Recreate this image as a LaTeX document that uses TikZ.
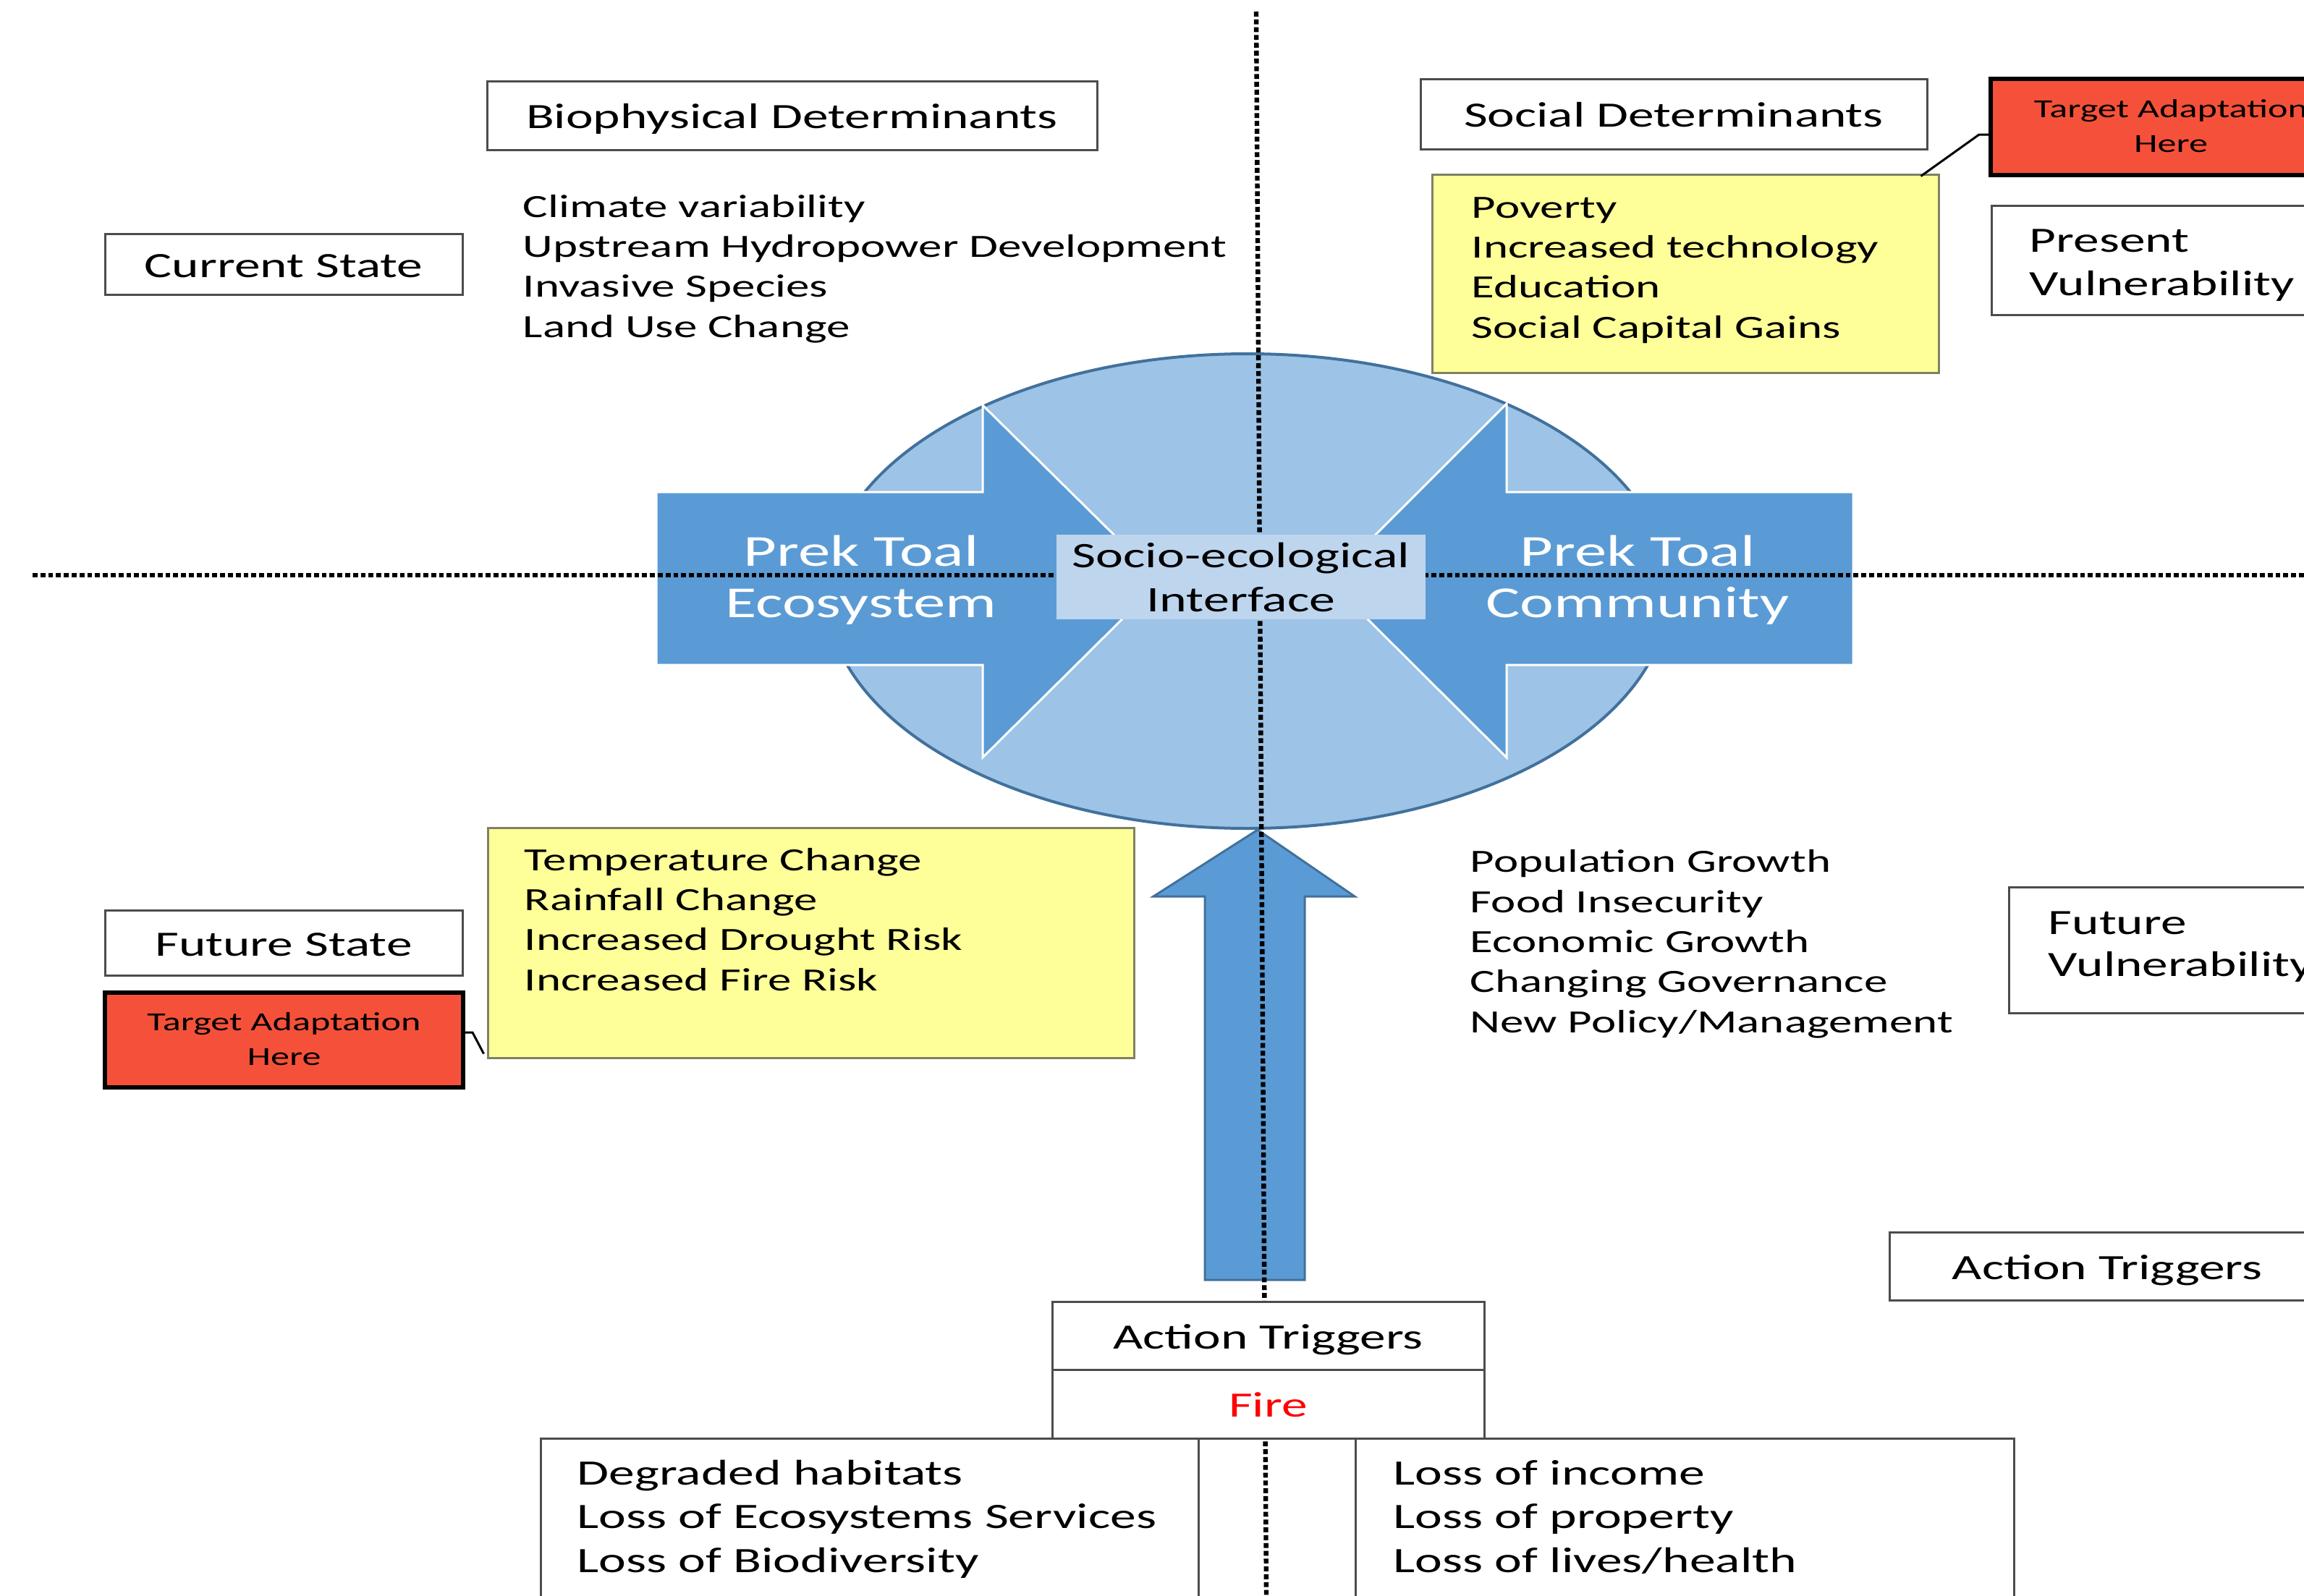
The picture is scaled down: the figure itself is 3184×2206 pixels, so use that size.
\documentclass[tikz,border=0pt]{standalone}
\usepackage{fontspec}
\setmainfont{Carlito}[FakeStretch=1.45]
\usetikzlibrary{calc}

\definecolor{arrowblue}{RGB}{91,155,213}
\definecolor{ovalfill}{RGB}{157,195,230}
\definecolor{ovaledge}{RGB}{65,113,156}
\definecolor{ifacefill}{RGB}{190,213,238}
\definecolor{noteyellow}{RGB}{255,255,153}
\definecolor{noteedge}{RGB}{128,128,100}
\definecolor{targetred}{RGB}{245,81,58}

\tikzset{
  labelbox/.style={draw=black!70, line width=0.75pt, fill=white, inner sep=0pt,
    font=\fontsize{12.3}{15}\selectfont, text height=9pt, text depth=0pt},
  notebox/.style={draw=noteedge, line width=0.75pt, fill=noteyellow, inner sep=0pt},
  targetbox/.style={draw=black, line width=1.5pt, fill=targetred, inner sep=0pt},
  targettext/.style={anchor=base, inner sep=0pt, align=center, font=\fontsize{9}{12}\selectfont},
  listtext/.style={anchor=base west, inner sep=0pt, align=left, font=\fontsize{11.2}{13.83}\selectfont},
  losstext/.style={anchor=base west, inner sep=0pt, align=left, font=\fontsize{12.35}{15.1}\selectfont},
  divider/.style={line width=1.6pt, dash pattern=on 1.7pt off 1pt},
  blockarrow/.style={fill=arrowblue, draw=white, line width=0.75pt, line join=miter},
}

\begin{document}
\begin{tikzpicture}[x=0.25pt,y=0.25pt,yscale=-1,xscale=1]
\useasboundingbox (0,0) rectangle (3184,2206);
\clip (0,0) rectangle (3184,2206);

%Shape: Ellipse
\draw[fill=ovalfill, draw=ovaledge, line width=1pt] (1724,817) ellipse [x radius=582, y radius=328];
%Shape: Right Arrow
\draw[blockarrow] (907,680) -- (1358,680) -- (1358,560) -- (1604,803) -- (1358,1047) -- (1358,919) -- (907,919) -- cycle;
%Shape: Left Arrow
\draw[blockarrow] (2561,680) -- (2082,680) -- (2082,558) -- (1837,803) -- (2082,1047) -- (2082,919) -- (2561,919) -- cycle;
%Shape: Up Arrow
\draw[fill=arrowblue, draw=ovaledge, line width=0.75pt] (1665,1769) -- (1665,1239) -- (1594,1239) -- (1738,1147) -- (1872,1239) -- (1803,1239) -- (1803,1769) -- cycle;

%Straight Lines
\draw[divider] (45,795) -- (3184,795);
%Straight Lines
\draw[divider] (1736,16) -- (1750,2206);

%Shape: Rectangle
\node[fill=ifacefill, minimum width=127.5pt, minimum height=29.25pt, inner sep=0pt] (iface) at (1715,797.5) {};
% Text Node
\node[anchor=base, align=center, inner sep=0pt, font=\fontsize{12.4}{15.25}\selectfont] (ifaceTxt) at (1715,845) {Socio-ecological\\Interface};
% Text Node
\node[anchor=base, align=center, inner sep=0pt, text=white, font=\fontsize{15.3}{17.75}\selectfont] (ecoTxt) at (1190,853) {Prek Toal\\Ecosystem};
% Text Node
\node[anchor=base, align=center, inner sep=0pt, text=white, font=\fontsize{15.3}{17.75}\selectfont] (comTxt) at (2263,853) {Prek Toal\\Community};

%Shape: Rectangle
\node[labelbox, minimum width=210.75pt, minimum height=23.75pt] (bioBox) at (1094.5,159.5) {Biophysical Determinants};
%Shape: Rectangle
\node[labelbox, minimum width=175pt, minimum height=24.25pt] (socBox) at (2313,157.5) {Social Determinants};
%Shape: Rectangle
\node[labelbox, minimum width=123.5pt, minimum height=21pt] (curBox) at (392,365) {Current State};
%Shape: Rectangle
\node[labelbox, minimum width=123.5pt, minimum height=22.5pt] (futBox) at (392,1303) {Future State};

%Shape: Rectangle
\node[targetbox, minimum width=124.5pt, minimum height=33.25pt] (tarTop) at (3000,175.5) {};
% Text Node
\node[targettext] (tarTopTxt) at (3000,210) {Target Adaptation\\Here};
%Shape: Rectangle
\node[targetbox, minimum width=123.75pt, minimum height=32.75pt] (tarLow) at (392.5,1437.5) {};
% Text Node
\node[targettext] (tarLowTxt) at (392.5,1472) {Target Adaptation\\Here};

%Shape: Rectangle
\node[labelbox, minimum width=137pt, minimum height=37.75pt] (presBox) at (3026,359.5) {};
% Text Node
\node[anchor=base west, inner sep=0pt, align=left, font=\fontsize{12.3}{15}\selectfont] (presTxt) at (2804,408) {Present\\Vulnerability};
%Shape: Rectangle
\node[labelbox, minimum width=131pt, minimum height=43.5pt] (futVulBox) at (3038,1313) {};
% Text Node
\node[anchor=base west, inner sep=0pt, align=left, font=\fontsize{12.3}{14.5}\selectfont] (futVulTxt) at (2830,1349) {Future\\Vulnerability};

%Shape: Rectangle
\node[notebox, minimum width=175pt, minimum height=68.5pt] (socNote) at (2329,378) {};
% Text Node
\node[listtext] (socList) at (2033,467) {Poverty\\Increased technology\\Education\\Social Capital Gains};
% Text Node
\node[listtext] (bioList) at (722,466) {Climate variability\\Upstream Hydropower Development\\Invasive Species\\Land Use Change};
%Shape: Rectangle
\node[notebox, minimum width=223.25pt, minimum height=79.5pt] (climNote) at (1120.5,1303) {};
% Text Node
\node[listtext] (climList) at (724,1369) {Temperature Change\\Rainfall Change\\Increased Drought Risk\\Increased Fire Risk};
% Text Node
\node[listtext] (popList) at (2031,1427) {Population Growth\\Food Insecurity\\Economic Growth\\Changing Governance\\New Policy/Management};

%Shape: Rectangle
\node[labelbox, minimum width=149.25pt, minimum height=23.5pt] (actBox) at (1752.5,1846) {Action Triggers};
%Shape: Rectangle
\node[labelbox, minimum width=149.25pt, minimum height=23.75pt, text=red] (fireBox) at (1752.5,1940.5) {Fire};
%Shape: Rectangle
\node[labelbox, minimum width=150.5pt, minimum height=23.5pt] (actRBox) at (2912,1750) {Action Triggers};
%Shape: Rectangle
\node[labelbox, minimum width=227.25pt, minimum height=78pt] (ecoLoss) at (1201.5,2144) {};
% Text Node
\node[losstext] (ecoLossTxt) at (797,2173) {Degraded habitats\\Loss of Ecosystems Services\\Loss of Biodiversity};
%Shape: Rectangle
\node[labelbox, minimum width=227.5pt, minimum height=78pt] (comLoss) at (2328,2144) {};
% Text Node
\node[losstext] (comLossTxt) at (1925,2173) {Loss of income\\Loss of property\\Loss of lives/health};

%Straight Lines
\draw[line width=0.75pt] ($(tarTop.west)+(0,10.5)$) -- ++(-13,0) -- ($(socNote.north east)+(-26,4)$);
%Straight Lines
\draw[line width=0.75pt] ($(tarLow.east)+(0,-10.5)$) -- ++(10,0) -- ($(climNote.south west)+(-4,-7)$);

\end{tikzpicture}
\end{document}
